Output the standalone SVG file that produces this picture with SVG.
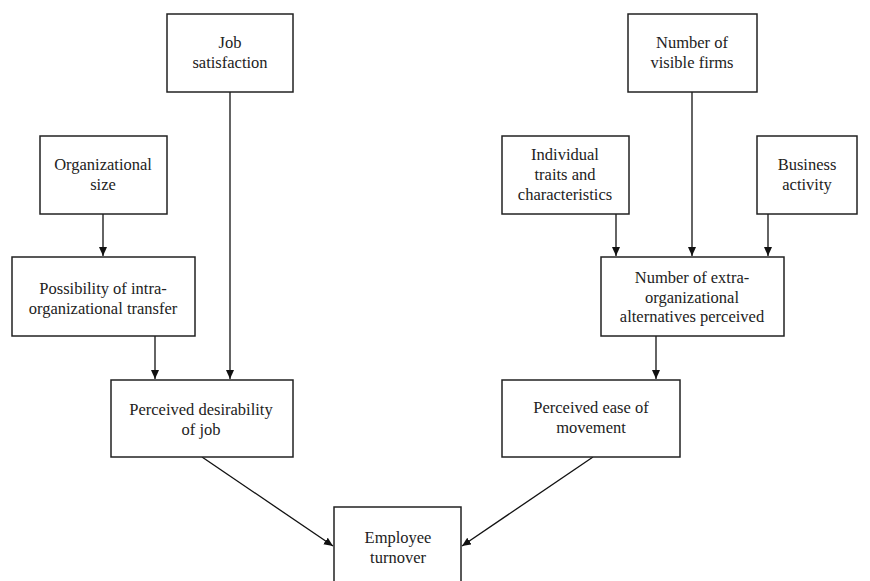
<svg xmlns="http://www.w3.org/2000/svg" width="870" height="581" viewBox="0 0 870 581">
<defs>
<marker id="ah" markerWidth="10" markerHeight="10" refX="9" refY="4" orient="auto" markerUnits="userSpaceOnUse">
<path d="M0,0 L9,4 L0,8 Z" fill="#111"/>
</marker>
<style>
.box{fill:#fff;stroke:#222;stroke-width:1.5}
.t{font-size:16.5px;fill:#222;text-anchor:middle}
.c{stroke:#111;stroke-width:1.3;fill:none;marker-end:url(#ah)}
</style>
</defs>
<rect width="870" height="581" fill="#fff"/>
<g id="connectors">
<line class="c" x1="103" y1="214" x2="103" y2="256"/>
<line class="c" x1="155" y1="336" x2="155" y2="379"/>
<line class="c" x1="230" y1="92" x2="230" y2="379"/>
<line class="c" x1="616" y1="214" x2="616" y2="256"/>
<line class="c" x1="692" y1="92" x2="692" y2="256"/>
<line class="c" x1="768" y1="214" x2="768" y2="256"/>
<line class="c" x1="656" y1="336" x2="656" y2="379"/>
<line class="c" x1="202" y1="457" x2="333" y2="546"/>
<line class="c" x1="593" y1="457" x2="462" y2="546"/>
</g>
<g font-family="'Liberation Serif', 'Times New Roman', 'DejaVu Serif', serif">
<g id="job-satisfaction">
<rect class="box" x="167" y="14" width="126" height="78"/>
<text class="t" x="230" y="48">Job</text>
<text class="t" x="230" y="68">satisfaction</text>
</g>
<g id="organizational-size">
<rect class="box" x="40" y="136" width="127" height="78"/>
<text class="t" x="103" y="170">Organizational</text>
<text class="t" x="103" y="190">size</text>
</g>
<g id="possibility-transfer">
<rect class="box" x="12" y="257" width="183" height="79"/>
<text class="t" x="103" y="294">Possibility of intra-</text>
<text class="t" x="103" y="314">organizational transfer</text>
</g>
<g id="perceived-desirability">
<rect class="box" x="111" y="380" width="182" height="77"/>
<text class="t" x="201" y="415">Perceived desirability</text>
<text class="t" x="201" y="435">of job</text>
</g>
<g id="visible-firms">
<rect class="box" x="628" y="14" width="129" height="78"/>
<text class="t" x="692" y="48">Number of</text>
<text class="t" x="692" y="68">visible firms</text>
</g>
<g id="individual-traits">
<rect class="box" x="502" y="136" width="127" height="78"/>
<text class="t" x="565" y="160">Individual</text>
<text class="t" x="565" y="180">traits and</text>
<text class="t" x="565" y="200">characteristics</text>
</g>
<g id="business-activity">
<rect class="box" x="757" y="136" width="100" height="78"/>
<text class="t" x="807" y="170">Business</text>
<text class="t" x="807" y="190">activity</text>
</g>
<g id="extra-org-alternatives">
<rect class="box" x="601" y="257" width="183" height="79"/>
<text class="t" x="692" y="283">Number of extra-</text>
<text class="t" x="692" y="303">organizational</text>
<text class="t" x="692" y="322">alternatives perceived</text>
</g>
<g id="perceived-ease">
<rect class="box" x="502" y="380" width="178" height="77"/>
<text class="t" x="591" y="413">Perceived ease of</text>
<text class="t" x="591" y="433">movement</text>
</g>
<g id="employee-turnover">
<rect class="box" x="334" y="507" width="127" height="90"/>
<text class="t" x="398" y="543">Employee</text>
<text class="t" x="398" y="563">turnover</text>
</g>
</g>
</svg>
